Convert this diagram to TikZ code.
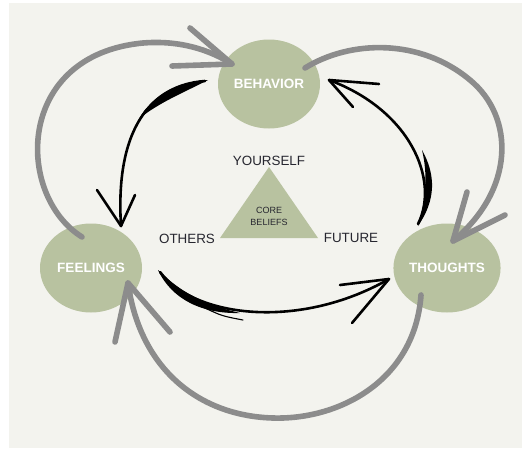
\documentclass[tikz,border=0pt]{standalone}
\usepackage{fontspec}
\setmainfont{Liberation Sans}
\usetikzlibrary{shapes.geometric}
\definecolor{panel}{HTML}{F3F3EE}
\definecolor{sage}{HTML}{B8C2A0}
\definecolor{loopgray}{HTML}{8C8C8C}
\definecolor{ink}{HTML}{26262F}

\begin{document}
\begin{tikzpicture}[x=1pt,y=-1pt,
  circ/.style={ellipse, fill=sage, minimum width=102pt, minimum height=89pt,
    inner sep=0pt, text=white, font=\fontsize{13.5}{14}\selectfont\bfseries},
  loop/.style={draw=loopgray, line width=5.6pt, line cap=round, line join=round},
  brush/.style={draw=black, line width=2.6pt, line cap=round, line join=round},
  hair/.style={draw=black, line width=1.1pt, line cap=round},
  lbl/.style={text=ink, font=\fontsize{13.4}{14}\selectfont, inner sep=0pt, anchor=base},
]
\useasboundingbox (0,0) rectangle (522,450);
\fill[white] (0,0) rectangle (522,450);
\fill[panel] (9,3) rectangle (522,448);

% the three stations of the cycle
\node[circ] (beh)  at (269,84)  {BEHAVIOR};
\node[circ] (feel) at (91,268)  {FEELINGS};
\node[circ] (thou) at (447,268) {THOUGHTS};

% core beliefs triangle
\coordinate (ta) at (269,167);
\coordinate (tl) at (220,238);
\coordinate (tr) at (318,238);
\fill[sage] (ta) -- (tl) -- (tr) -- cycle;
\node[align=center, text=ink, font=\fontsize{9}{12}\selectfont, inner sep=0pt] (core) at (269,216) {CORE\\BELIEFS};
\node[lbl] (you) at (269,165) {YOURSELF};
\node[lbl] (oth) at (187,243) {OTHERS};
\node[lbl] (fut) at (351,242) {FUTURE};

% inner brush-stroke arrows
\coordinate (bf1) at (205,81);
\coordinate (bf2) at (121,226);
\draw[brush] (bf1) .. controls (150,85) and (115,130) .. (bf2);
\fill (208,80) .. controls (180,82) and (155,92) .. (140,118) .. controls (160,102) and (185,92) .. (208,80);
\draw[hair] (138,122) .. controls (145,110) .. (152,104);
\draw[brush] (97,190) -- (bf2) -- (135,195);

\coordinate (ft1) at (160,272);
\coordinate (ft2) at (389,279);
\draw[brush] (ft1) .. controls (195,318) and (300,330) .. (ft2);
\fill (158,270) .. controls (180,292) and (205,305) .. (240,313) .. controls (203,314) and (172,300) .. (158,270);
\draw[hair] (205,308) .. controls (222,316) .. (243,320);
\draw[brush] (340,285) -- (ft2) -- (352,323);

\coordinate (tb1) at (418,224);
\coordinate (tb2) at (329,80);
\draw[brush] (tb1) .. controls (440,180) and (410,110) .. (tb2);
\fill (418,226) .. controls (436,200) and (436,175) .. (422,150) .. controls (428,175) and (426,200) .. (418,226);
\draw[brush] (379,84) -- (tb2) -- (353,107);

% outer grey loops
\coordinate (g1s) at (82,237);
\coordinate (g1e) at (232,64);
\draw[loop] (g1s) .. controls (15,195) and (15,55) .. (143,43) .. controls (180,40) and (210,50) .. (g1e);
\draw[loop] (190,28) -- (g1e) -- (172,66);

\coordinate (g2s) at (305,68);
\coordinate (g2e) at (453,241);
\draw[loop] (g2s) .. controls (350,40) and (420,38) .. (470,80) .. controls (515,117) and (515,190) .. (g2e);
\draw[loop] (467,192) -- (g2e) -- (505,215);

\coordinate (g3s) at (421,295);
\coordinate (g3e) at (128,283);
\draw[loop] (g3s) .. controls (415,380) and (340,420) .. (273,418) .. controls (200,416) and (140,370) .. (g3e);
\draw[loop] (115,342) -- (g3e) -- (170,332);
\end{tikzpicture}
\end{document}
